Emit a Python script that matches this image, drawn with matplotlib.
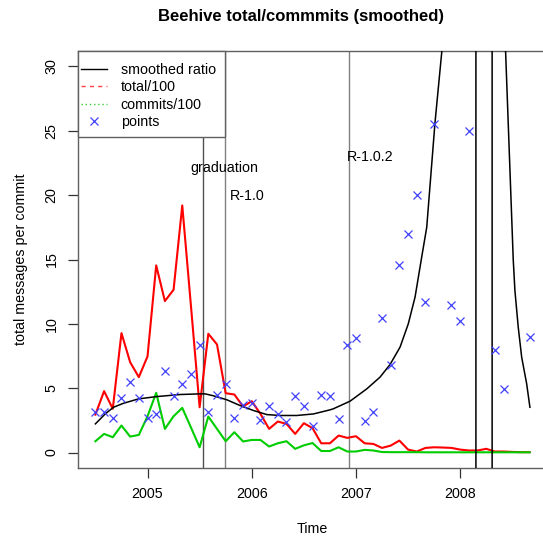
import numpy as np
import matplotlib
matplotlib.use("Agg")
import matplotlib.pyplot as plt
from matplotlib.lines import Line2D
from matplotlib.patches import Rectangle

plt.rcParams['font.family'] = ['Liberation Sans', 'DejaVu Sans']

# monthly series, Jul 2004 .. Sep 2008
months = 2004.5 + np.arange(51) / 12.0

total_100 = [2.95, 4.77, 3.40, 9.28, 7.02, 5.86, 7.47, 14.54, 11.77, 12.65,
             19.2, 11.4, 3.52, 9.23, 8.40, 4.61, 4.51, 3.58, 3.99, 3.01,
             1.84, 2.41, 2.23, 1.45, 2.28, 1.90, 0.72, 0.72, 1.32, 1.14,
             1.27, 0.72, 0.67, 0.36, 0.54, 0.93, 0.23, 0.08, 0.36, 0.41,
             0.39, 0.36, 0.23, 0.16, 0.16, 0.29, 0.08, 0.08, 0.05, 0.03, 0.03]

commits_100 = [0.88, 1.45, 1.19, 2.10, 1.24, 1.37, 2.82, 4.64, 1.84, 2.82,
               3.47, 1.95, 0.41, 2.80, 1.84, 0.88, 1.58, 0.86, 0.98, 0.98,
               0.47, 0.72, 0.88, 0.29, 0.56, 0.74, 0.12, 0.12, 0.41, 0.08,
               0.08, 0.21, 0.16, 0.04, 0.03, 0.03, 0.03, 0.03, 0.02, 0.02,
               0.02, 0.02, 0.02, 0.02, 0.02, 0.02, 0.02, 0.02, 0.02, 0.02, 0.02]

ratio_pts = [3.13, 3.13, 2.70, 4.22, 5.47, 4.22, 2.70, 3.01, 6.30, 4.38,
             5.34, 6.12, 8.32, 3.13, 4.49, 5.34, 2.70, 3.73, 3.83, 2.54,
             3.58, 3.01, 2.36, 4.43, 3.58, 2.05, 4.51, 4.38, 2.62, 8.37,
             8.89, 2.49, 3.13, 10.44, 6.84, 14.54, 17.0, 20.0, 11.69, 25.5,
             np.nan, 11.49, 10.26, 25.0, np.nan, np.nan, 7.99, 4.95, np.nan, np.nan, 8.97]

smooth_t = [2004.50, 2004.594, 2004.674, 2004.770, 2004.914, 2005.090, 2005.314,
            2005.505, 2005.553, 2005.633, 2005.761, 2005.889, 2006.016, 2006.145,
            2006.272, 2006.432, 2006.592, 2006.752, 2006.783, 2006.943, 2007.104,
            2007.231, 2007.327, 2007.423, 2007.502, 2007.567, 2007.631, 2007.679,
            2007.758, 2007.823, 2007.902, 2008.046, 2008.149, 2008.153, 2008.304,
            2008.309, 2008.382, 2008.436, 2008.509, 2008.525, 2008.557, 2008.590,
            2008.638, 2008.669]
smooth_v = [2.23, 3.0, 3.52, 3.83, 4.17, 4.35, 4.51,
            4.56, 4.56, 4.41, 4.10, 3.65, 3.27, 2.95,
            2.88, 2.88, 3.0, 3.32, 3.40, 3.99, 4.95,
            5.86, 6.84, 8.19, 10.0, 12.08, 15.2, 17.5,
            25.6, 31.1, 45, 120, 1000, -1000, -1000,
            1000, 80, 31.1, 15.0, 12.6, 9.74, 7.41,
            5.34, 3.52]

events = [2005.537, 2005.748, 2006.934]
event_labels = ["graduation", "R-1.0", "R-1.0.2"]
label_x = [2005.742, 2005.961, 2007.135]
label_y = [22.1, 19.9, 23.0]

W, H = 543, 538
fig = plt.figure(figsize=(W / 100, H / 100), dpi=100)
ax = fig.add_axes([78 / W, (H - 468) / H, 469 / W, 417 / H])

ax.plot(months, total_100, color='#ff0000', lw=1.5, zorder=3)
ax.plot(months, commits_100, color='#00cd00', lw=1.5, zorder=3)
ax.plot(smooth_t, smooth_v, color='black', lw=1.1, zorder=4)
ax.plot(months, ratio_pts, ls='none', marker='x', ms=5.5, mew=0.9,
        color='#4040ff', zorder=5)

for t, c in zip(events, ['#505050', '#808080', '#808080']):
    ax.axvline(t, color=c, lw=1.0, zorder=2)
for lx, ly, lab in zip(label_x, label_y, event_labels):
    ax.text(lx, ly, lab, ha='center', va='center', fontsize=10.3)

ax.set_xlim(2004.333, 2008.833)
ax.set_ylim(-1.2, 31.2)
ax.set_xticks([2005, 2006, 2007, 2008])
ax.set_xticklabels(["2005", "2006", "2007", "2008"])
ax.set_yticks([0, 5, 10, 15, 20, 25, 30])
ax.tick_params(axis='both', direction='out', length=7, width=0.9,
               color='#333333', labelsize=10.3)
ax.tick_params(axis='x', pad=7)
ax.tick_params(axis='y', pad=7)
for lab in ax.get_yticklabels():
    lab.set_rotation(90)
    lab.set_va('center')
for s in ax.spines.values():
    s.set_color('#606060')
    s.set_linewidth(1.0)

ax.set_xlabel("Time", fontsize=10.3, labelpad=15)
ax.set_ylabel("total messages per commit", fontsize=10.3, labelpad=12)
fig.text(301 / W, 1 - 16 / H, "Beehive total/commmits (smoothed)",
         ha='center', va='center', fontsize=12, fontweight='bold')

# legend box (R style, flush with the top-left corner)
ax.add_patch(Rectangle((0, (468 - 137) / 417), (225 - 78) / 469, 1 - (468 - 137) / 417,
                       transform=ax.transAxes, facecolor='white',
                       edgecolor='#606060', lw=1.0, zorder=6, clip_on=False))
handles = [Line2D([], [], color='black', lw=1.0),
           Line2D([], [], color='#ff4040', lw=1.0, ls=(0, (3, 3))),
           Line2D([], [], color='#30d030', lw=1.0, ls=(0, (1, 2))),
           Line2D([], [], color='#4040ff', ls='none', marker='x', ms=5.5, mew=0.9)]
leg = ax.legend(handles, ["smoothed ratio", "total/100", "commits/100", "points"],
                loc='upper left', bbox_to_anchor=(-0.005, 0.9825), borderaxespad=0,
                frameon=False, fontsize=10.3, handlelength=1.85, handletextpad=0.95,
                labelspacing=0.22, borderpad=0.35)
leg.set_zorder(7)

fig.savefig("out.png", dpi=100)
